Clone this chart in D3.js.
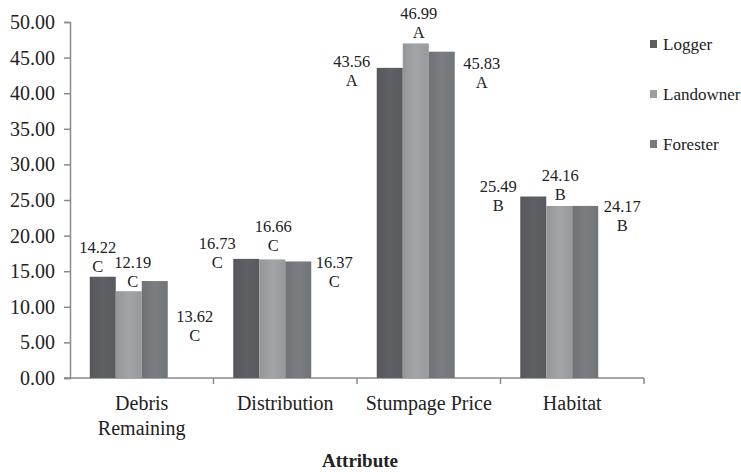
<!DOCTYPE html>
<html>
<head>
<meta charset="utf-8">
<script src="https://cdn.jsdelivr.net/npm/d3@7"></script>
<style>
  body { margin: 0; background: #fff; }
  svg text { fill: #222; }
</style>
</head>
<body>
<svg width="741" height="472"></svg>
<script>
const categories = ["Debris\nRemaining", "Distribution", "Stumpage Price", "Habitat"];
const seriesNames = ["Logger", "Landowner", "Forester"];
const logger = [14.22, 16.73, 43.56, 25.49];
const landowner = [12.19, 16.66, 46.99, 24.16];
const forester = [13.62, 16.37, 45.83, 24.17];
const letters = [["C", "C", "C"], ["C", "C", "C"], ["A", "A", "A"], ["B", "B", "B"]];
const yTicks = [0, 5, 10, 15, 20, 25, 30, 35, 40, 45, 50];

// label nudges (dx from bar center, dy from bar top), placed by hand like the original
const nudge = [
  [[-5, -30], [4, -28.5], [40, 35]],
  [[-29, -16], [1, -33], [36, 1]],
  [[-38, -7], [3, -30], [40, 12]],
  [[-35, -10], [1, -31], [37, 0]]
];
const colors = ["#5c5d61", "#9c9fa2", "#76797c"];
const serif = "'Liberation Serif', 'Times New Roman', Times, 'DejaVu Serif', serif";

let values = [logger, landowner, forester];
let svg = d3.select("svg");
let margin = {top: 22, left: 70, right: 97, bottom: 94};
let width = 741, height = 472;

let x0 = d3.scaleBand().domain(categories).range([margin.left, width - margin.right]);
let x1 = d3.scaleBand().domain([...seriesNames, "blank"]).range([0, x0.bandwidth()])
  .paddingInner(0).paddingOuter(0.76);
let y = d3.scaleLinear().domain([0, 50]).range([height - margin.bottom, margin.top]);

// gradients for a little of the excel shading
let defs = svg.append("defs");
colors.forEach((c, i) => {
  let g = defs.append("linearGradient").attr("id", "g" + i).attr("x1", 0).attr("x2", 1);
  g.append("stop").attr("offset", "0%").attr("stop-color", d3.color(c).darker(0.15));
  g.append("stop").attr("offset", "50%").attr("stop-color", d3.color(c).brighter(0.1));
  g.append("stop").attr("offset", "100%").attr("stop-color", d3.color(c).darker(0.1));
});

// y axis
let yAxis = d3.axisLeft(y).tickValues(yTicks).tickFormat(d3.format(".2f")).tickSize(6).tickPadding(9);
let gy = svg.append("g").attr("transform", `translate(${margin.left},0)`).call(yAxis);
gy.attr("font-family", null);
gy.selectAll("text").style("font-size", "20px").style("font-family", serif).attr("fill", "#222");
gy.selectAll("line, path").attr("stroke", "#8a8a8a").attr("stroke-width", 1.5);

// x axis (ticks at group boundaries)
let xAxisLine = svg.append("g");
let bounds = categories.map(c => x0(c)).concat([width - margin.right]);
xAxisLine.append("line")
  .attr("x1", margin.left - 6).attr("x2", width - margin.right)
  .attr("y1", y(0)).attr("y2", y(0))
  .attr("stroke", "#8a8a8a").attr("stroke-width", 1.5);
xAxisLine.selectAll("line.tk").data(bounds.slice(1)).enter().append("line")
  .attr("class", "tk")
  .attr("x1", d => d).attr("x2", d => d)
  .attr("y1", y(0)).attr("y2", y(0) + 6)
  .attr("stroke", "#8a8a8a").attr("stroke-width", 1.5);

let catLabels = svg.append("g").selectAll("text").data(categories).enter().append("text")
  .attr("x", d => x0(d) + x0.bandwidth() / 2)
  .attr("y", y(0) + 32)
  .attr("text-anchor", "middle")
  .style("font-family", serif)
  .style("font-size", "20px");
catLabels.each(function(d) {
  let lines = d.split("\n");
  d3.select(this).selectAll("tspan").data(lines).enter().append("tspan")
    .attr("x", x0(d) + x0.bandwidth() / 2)
    .attr("dy", (l, i) => i === 0 ? 0 : 25)
    .text(l => l);
});

// bars
let groups = svg.append("g").selectAll("g").data(categories).enter().append("g")
  .attr("transform", d => `translate(${x0(d)},0)`);
groups.selectAll("rect")
  .data((d, ci) => seriesNames.map((s, si) => ({s: s, si: si, v: values[si][ci]})))
  .enter().append("rect")
  .attr("x", d => x1(d.s))
  .attr("y", d => y(d.v))
  .attr("width", x1.bandwidth())
  .attr("height", d => y(0) - y(d.v))
  .attr("fill", d => `url(#g${d.si})`);

// data labels
groups.each(function(cat, ci) {
  let g = d3.select(this);
  seriesNames.forEach((s, si) => {
    let v = values[si][ci];
    let cx = x1(s) + x1.bandwidth() / 2 + nudge[ci][si][0];
    let cy = y(v) + nudge[ci][si][1];
    g.append("text").attr("x", cx).attr("y", cy).attr("dy", "0.35em")
      .attr("text-anchor", "middle").style("font-size", "16.5px").style("font-family", serif)
      .text(d3.format(".2f")(v));
    g.append("text").attr("x", cx).attr("y", cy + 19).attr("dy", "0.35em")
      .attr("text-anchor", "middle").style("font-size", "16.5px").style("font-family", serif)
      .text(letters[ci][si]);
  });
});

// legend
let legend = svg.append("g").selectAll("g").data(seriesNames).enter().append("g")
  .attr("transform", (d, i) => `translate(650,${44 + i * 50})`);
legend.append("rect").attr("x", 0).attr("y", -4).attr("width", 7).attr("height", 8)
  .attr("fill", (d, i) => colors[i]);
legend.append("text").attr("x", 13).attr("y", 0).attr("dy", "0.35em")
  .style("font-size", "17px").style("font-family", serif).text(d => d);

// axis title
svg.append("text").attr("x", 360).attr("y", 460).attr("dy", "0.35em")
  .attr("text-anchor", "middle").style("font-size", "19px").style("font-weight", "bold")
  .style("font-family", serif)
  .text("Attribute");
</script>
</body>
</html>
